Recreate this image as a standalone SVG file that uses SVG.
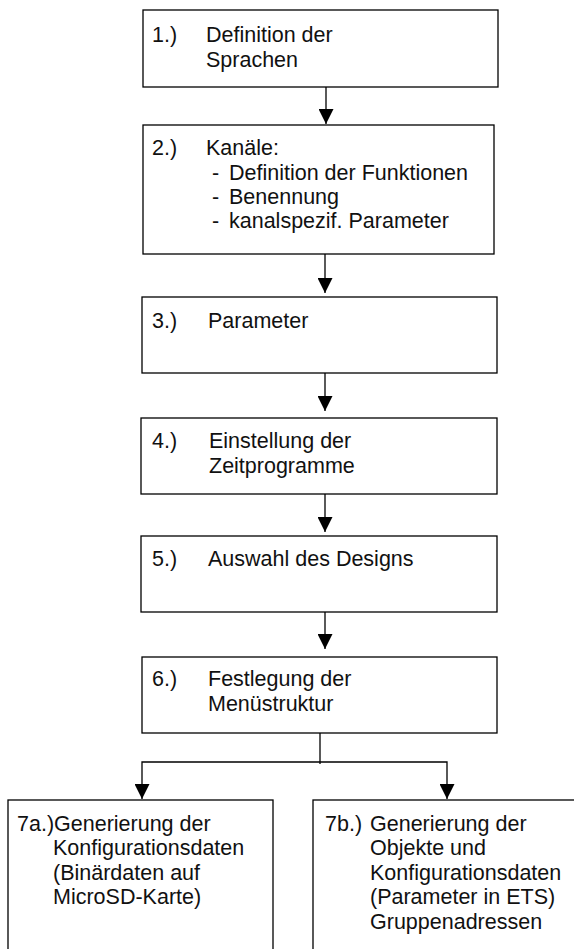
<svg xmlns="http://www.w3.org/2000/svg" width="574" height="949" viewBox="0 0 574 949">
<style>
.box{fill:#fff;stroke:#000;stroke-width:1.3}
.t{font-family:"Liberation Sans",Arial,sans-serif;font-size:21.5px;fill:#111}
.c{fill:none;stroke:#000;stroke-width:1.3}
</style>
<defs>
<marker id="ah" markerUnits="userSpaceOnUse" viewBox="0 0 15 15" markerWidth="15" markerHeight="15" refX="15" refY="7.5" orient="auto">
<path d="M0,0 L15,7.5 L0,15 z" fill="#000"/>
</marker>
</defs>
<rect width="574" height="949" fill="#fff"/>
<g id="n1">
<rect class="box" x="143" y="10" width="355" height="77"/>
<text class="t" x="152" y="42">1.)</text>
<text class="t" x="206" y="42">Definition der</text>
<text class="t" x="206" y="67">Sprachen</text>
</g>
<g id="n2">
<rect class="box" x="143" y="125" width="351" height="129"/>
<text class="t" x="152" y="155">2.)</text>
<text class="t" x="206" y="155">Kanäle:</text>
<text class="t" x="212" y="180">-</text>
<text class="t" x="229" y="180">Definition der Funktionen</text>
<text class="t" x="212" y="204">-</text>
<text class="t" x="229" y="204">Benennung</text>
<text class="t" x="212" y="228">-</text>
<text class="t" x="229" y="228">kanalspezif. Parameter</text>
</g>
<g id="n3">
<rect class="box" x="142" y="297" width="355" height="76"/>
<text class="t" x="152" y="328">3.)</text>
<text class="t" x="208" y="328">Parameter</text>
</g>
<g id="n4">
<rect class="box" x="141" y="418" width="356" height="76"/>
<text class="t" x="152" y="448">4.)</text>
<text class="t" x="209" y="448">Einstellung der</text>
<text class="t" x="209" y="473">Zeitprogramme</text>
</g>
<g id="n5">
<rect class="box" x="141" y="536" width="356" height="76"/>
<text class="t" x="152" y="566">5.)</text>
<text class="t" x="208" y="566">Auswahl des Designs</text>
</g>
<g id="n6">
<rect class="box" x="142" y="657" width="355" height="76"/>
<text class="t" x="152" y="686">6.)</text>
<text class="t" x="208" y="686">Festlegung der</text>
<text class="t" x="208" y="711">Menüstruktur</text>
</g>
<g id="n7a">
<rect class="box" x="8" y="800" width="265" height="170"/>
<text class="t" x="17" y="831">7a.)Generierung der</text>
<text class="t" x="53" y="855">Konfigurationsdaten</text>
<text class="t" x="53" y="880">(Binärdaten auf</text>
<text class="t" x="53" y="904">MicroSD-Karte)</text>
</g>
<g id="n7b">
<rect class="box" x="313" y="800" width="268" height="170"/>
<text class="t" x="325" y="831">7b.)</text>
<text class="t" x="370" y="831">Generierung der</text>
<text class="t" x="370" y="855">Objekte und</text>
<text class="t" x="370" y="880">Konfigurationsdaten</text>
<text class="t" x="370" y="904">(Parameter in ETS)</text>
<text class="t" x="370" y="929">Gruppenadressen</text>
</g>
<g id="connectors">
<line class="c" x1="326" y1="87" x2="326" y2="124" marker-end="url(#ah)"/>
<line class="c" x1="325" y1="254" x2="325" y2="293" marker-end="url(#ah)"/>
<line class="c" x1="325" y1="373" x2="325" y2="411" marker-end="url(#ah)"/>
<line class="c" x1="325" y1="494" x2="325" y2="532" marker-end="url(#ah)"/>
<line class="c" x1="325" y1="612" x2="325" y2="649" marker-end="url(#ah)"/>
<line class="c" x1="320" y1="733" x2="320" y2="764"/>
<polyline class="c" points="320,762 142,762 142,799" marker-end="url(#ah)"/>
<polyline class="c" points="320,762 447,762 447,799" marker-end="url(#ah)"/>
</g>
</svg>
